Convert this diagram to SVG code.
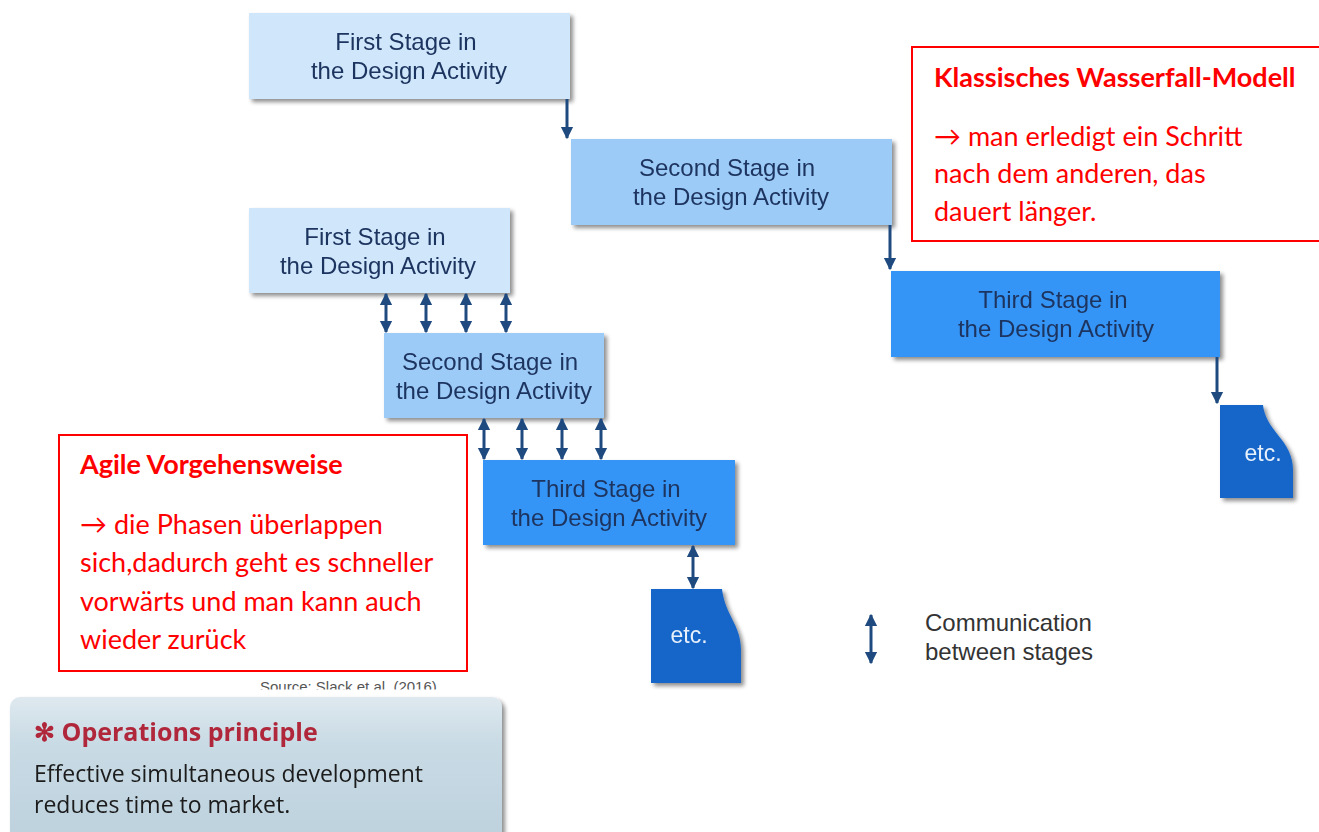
<svg xmlns="http://www.w3.org/2000/svg" width="1319" height="832" viewBox="0 0 1319 832">
  <defs>
    <filter id="shadow" x="-10%" y="-10%" width="130%" height="140%">
      <feGaussianBlur in="SourceAlpha" stdDeviation="2"/>
      <feOffset dx="3" dy="3" result="b"/>
      <feComponentTransfer><feFuncA type="linear" slope="0.45"/></feComponentTransfer>
      <feMerge><feMergeNode/><feMergeNode in="SourceGraphic"/></feMerge>
    </filter>
    <linearGradient id="principleFill" x1="0" y1="0" x2="0" y2="1">
      <stop offset="0" stop-color="#dfe9ef"/>
      <stop offset="0.3" stop-color="#c9dbe5"/>
      <stop offset="1" stop-color="#bcd1dd"/>
    </linearGradient>
    <marker id="head" viewBox="0 0 10 10" refX="9" refY="5" markerWidth="4.2" markerHeight="4.6" orient="auto-start-reverse" markerUnits="strokeWidth">
      <path d="M0,0 L10,5 L0,10 Z" fill="#1f4a80"/>
    </marker>
    <clipPath id="sourceClip">
      <rect x="0" y="670" width="600" height="19.5"/>
    </clipPath>
  </defs>
  <style>
    .stage { font-family: "Liberation Sans", Arial, sans-serif; font-size: 24px; fill: #1f3560; text-anchor: middle; }
    .s1 { fill: #d0e7fb; }
    .s2 { fill: #9dcbf7; }
    .s3 { fill: #3595f6; }
    .etc { fill: #1565c9; }
    .etcText { font-family: "Liberation Sans", Arial, sans-serif; font-size: 23px; fill: #e8f1fb; text-anchor: middle; }
    .conn { stroke: #1f4a80; stroke-width: 3; fill: none; }
    .note { fill: #ffffff; stroke: #ff0000; stroke-width: 2; }
    .noteHead { font-family: Lato, "Open Sans", sans-serif; font-size: 27px; font-weight: bold; fill: #ff0000; }
    .noteText { font-family: Lato, "Open Sans", sans-serif; font-size: 27px; fill: #ff0000; }
    .legend { font-family: "Liberation Sans", Arial, sans-serif; font-size: 24px; fill: #333333; }
    .principle { font-family: "Open Sans", "Noto Sans", sans-serif; }
  </style>

  <!-- waterfall sequence -->
  <g id="w-first" filter="url(#shadow)">
    <rect class="s1" x="249" y="13" width="321" height="86"/>
    <text class="stage" x="406" y="50">First Stage in</text>
    <text class="stage" x="409" y="79">the Design Activity</text>
  </g>
  <g id="w-second" filter="url(#shadow)">
    <rect class="s2" x="571" y="139" width="321" height="86"/>
    <text class="stage" x="727" y="176">Second Stage in</text>
    <text class="stage" x="731" y="205">the Design Activity</text>
  </g>
  <g id="w-third" filter="url(#shadow)">
    <rect class="s3" x="891" y="271" width="329" height="86"/>
    <text class="stage" x="1053" y="308">Third Stage in</text>
    <text class="stage" x="1056" y="337">the Design Activity</text>
  </g>
  <g id="w-etc" filter="url(#shadow)">
    <path class="etc" d="M1220,405 H1263 C1266,432 1293,440 1293,470 V498 H1220 Z"/>
    <text class="etcText" x="1263" y="461">etc.</text>
  </g>

  <!-- overlapping sequence -->
  <g id="a-first" filter="url(#shadow)">
    <rect class="s1" x="249" y="208" width="261" height="85"/>
    <text class="stage" x="375" y="245">First Stage in</text>
    <text class="stage" x="378" y="274">the Design Activity</text>
  </g>
  <g id="a-second" filter="url(#shadow)">
    <rect class="s2" x="384" y="333" width="220" height="85"/>
    <text class="stage" x="490" y="370">Second Stage in</text>
    <text class="stage" x="494" y="399">the Design Activity</text>
  </g>
  <g id="a-third" filter="url(#shadow)">
    <rect class="s3" x="483" y="460" width="252" height="85"/>
    <text class="stage" x="606" y="497">Third Stage in</text>
    <text class="stage" x="609" y="526">the Design Activity</text>
  </g>
  <g id="a-etc" filter="url(#shadow)">
    <path class="etc" d="M651,589 H722 C725,615 741,625 741,650 V683 H651 Z"/>
    <text class="etcText" x="689" y="643">etc.</text>
  </g>

  <!-- connectors -->
  <g id="connectors">
    <line class="conn" x1="567" y1="99" x2="567" y2="138" marker-end="url(#head)"/>
    <line class="conn" x1="890" y1="225" x2="890" y2="269" marker-end="url(#head)"/>
    <line class="conn" x1="1217" y1="357" x2="1217" y2="403" marker-end="url(#head)"/>

    <line class="conn" x1="386" y1="294" x2="386" y2="332" marker-start="url(#head)" marker-end="url(#head)"/>
    <line class="conn" x1="426" y1="294" x2="426" y2="332" marker-start="url(#head)" marker-end="url(#head)"/>
    <line class="conn" x1="466" y1="294" x2="466" y2="332" marker-start="url(#head)" marker-end="url(#head)"/>
    <line class="conn" x1="506" y1="294" x2="506" y2="332" marker-start="url(#head)" marker-end="url(#head)"/>

    <line class="conn" x1="484" y1="419" x2="484" y2="459" marker-start="url(#head)" marker-end="url(#head)"/>
    <line class="conn" x1="522" y1="419" x2="522" y2="459" marker-start="url(#head)" marker-end="url(#head)"/>
    <line class="conn" x1="562" y1="419" x2="562" y2="459" marker-start="url(#head)" marker-end="url(#head)"/>
    <line class="conn" x1="601" y1="419" x2="601" y2="459" marker-start="url(#head)" marker-end="url(#head)"/>

    <line class="conn" x1="693" y1="546" x2="693" y2="588" marker-start="url(#head)" marker-end="url(#head)"/>
  </g>

  <!-- legend -->
  <g id="legend">
    <line class="conn" x1="871" y1="615" x2="871" y2="663" marker-start="url(#head)" marker-end="url(#head)"/>
    <text class="legend" x="925" y="631">Communication</text>
    <text class="legend" x="925" y="660">between stages</text>
  </g>

  <!-- source line, partly hidden under the principle panel -->
  <text x="260" y="692" clip-path="url(#sourceClip)" font-family="Liberation Sans, Arial, sans-serif" font-size="15" fill="#555555">Source: Slack et al. (2016)</text>

  <!-- annotation: waterfall -->
  <g id="note-waterfall">
    <rect class="note" x="912" y="47" width="420" height="194"/>
    <text class="noteHead" x="934" y="87">Klassisches Wasserfall-Modell</text>
    <text class="noteText" x="934" y="146">→ man erledigt ein Schritt</text>
    <text class="noteText" x="934" y="183">nach dem anderen, das</text>
    <text class="noteText" x="934" y="221">dauert länger.</text>
  </g>

  <!-- annotation: agile -->
  <g id="note-agile">
    <rect class="note" x="59" y="435" width="408" height="236"/>
    <text class="noteHead" x="80" y="474">Agile Vorgehensweise</text>
    <text class="noteText" x="80" y="534">→ die Phasen überlappen</text>
    <text class="noteText" x="80" y="572">sich,dadurch geht es schneller</text>
    <text class="noteText" x="80" y="611">vorwärts und man kann auch</text>
    <text class="noteText" x="80" y="649">wieder zurück</text>
  </g>

  <!-- operations principle panel -->
  <g id="principle" filter="url(#shadow)">
    <rect x="10" y="697" width="492" height="150" rx="10" ry="10" fill="url(#principleFill)"/>
    <text class="principle" x="34" y="741" font-size="25" font-weight="bold" fill="#b0283a">✻ Operations principle</text>
    <text class="principle" x="34" y="782" font-size="23" fill="#1a1a1a">Effective simultaneous development</text>
    <text class="principle" x="34" y="813" font-size="23" fill="#1a1a1a">reduces time to market.</text>
  </g>
</svg>
